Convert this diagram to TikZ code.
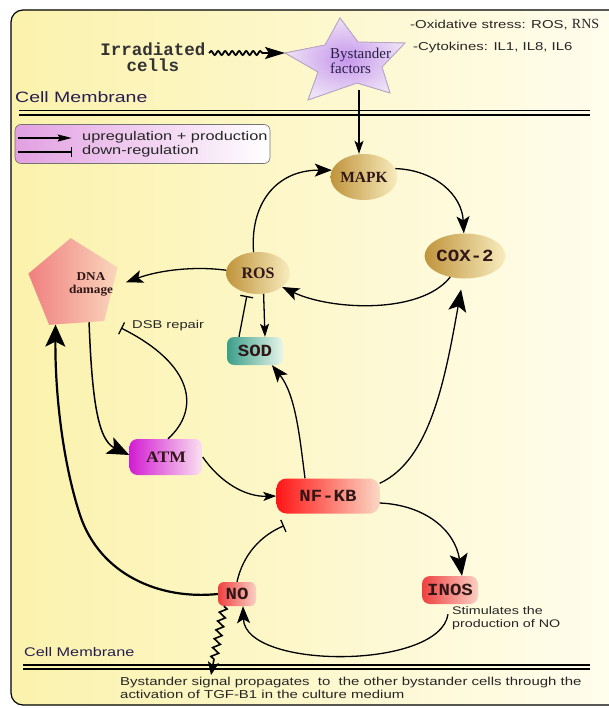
\documentclass[tikz,border=0pt]{standalone}
\usepackage{fontspec}
\usetikzlibrary{arrows.meta,shapes.geometric,decorations.pathmorphing}
\newfontfamily\sansW[FakeStretch=1.3]{Liberation Sans}
\newfontfamily\monoL{Liberation Mono}
\newfontfamily\monoW[FakeStretch=1.12]{Liberation Mono}
\newfontfamily\serifL{Liberation Serif}
\newfontfamily\serifW[FakeStretch=1.1]{Liberation Serif}
\definecolor{bgL}{RGB}{251,242,172}
\definecolor{bgR}{RGB}{255,254,242}
\definecolor{legL}{RGB}{226,160,226}
\definecolor{starIn}{RGB}{198,150,236}
\definecolor{starOut}{RGB}{238,226,246}
\definecolor{starLine}{RGB}{185,165,200}
\definecolor{goldL}{RGB}{192,148,60}
\definecolor{goldR}{RGB}{248,236,190}
\definecolor{tealL}{RGB}{58,158,138}
\definecolor{tealR}{RGB}{232,246,234}
\definecolor{dnaL}{RGB}{240,128,128}
\definecolor{dnaR}{RGB}{250,214,188}
\definecolor{atmL}{RGB}{210,30,210}
\definecolor{atmR}{RGB}{250,226,240}
\definecolor{nfL}{RGB}{255,22,22}
\definecolor{nfR}{RGB}{250,216,196}
\definecolor{redL}{RGB}{238,64,64}
\definecolor{redR}{RGB}{250,208,196}
\definecolor{labcol}{RGB}{48,22,22}
\definecolor{memcol}{RGB}{38,30,80}
\definecolor{bystcol}{RGB}{40,30,70}
\begin{document}
\begin{tikzpicture}[x=1pt,y=-1pt,
  conn/.style={line width=1.3pt,draw=black},
  arrS/.style={conn,-{Stealth[length=13pt,width=9pt,inset=3pt]}},
  arrM/.style={conn,-{Stealth[length=17pt,width=13pt,inset=4pt]}},
  arrL/.style={conn,-{Stealth[length=22pt,width=18pt,inset=5pt]}},
  inh/.style={conn,-{Bar[width=13pt,line width=1.3pt]}},
  mem/.style={line width=1.3pt,draw=black},
  gold/.style={ellipse,inner sep=0pt,minimum width=64pt,left color=goldL,right color=goldR,text=labcol},
  rbox/.style={rounded corners=8pt,inner sep=0pt,text=labcol,font=\monoW\bfseries\fontsize{17}{18}\selectfont},
  sanstext/.style={inner sep=0pt,text=black!85}
]
\useasboundingbox (0,0) rectangle (608,708);
% frame with background
\path[left color=bgL,right color=bgR,draw=black,line width=1.2pt,rounded corners=12pt] (11,10) rectangle (660,705);

% top area
\node[inner sep=0pt,align=center,text=black!80,font=\monoL\bfseries\fontsize{17.5}{16}\selectfont] (irr) at (153,57) {Irradiated\\cells};
\coordinate (wv0) at (209,53);
\coordinate (starL) at (285,53);
\coordinate (starB) at (359,90);
\filldraw[inner color=starIn,outer color=starOut,draw=starLine,line width=0.9pt]
  (340,18) -- (358,42) -- (405,43) -- (382,67) -- (390,93) -- (357,83) -- (308,100) -- (318,72) -- (285,53) -- (325,45) -- cycle;
\node[inner sep=0pt,anchor=west,align=left,text=bystcol,font=\serifL\fontsize{15}{15}\selectfont] (bys) at (330,61) {Bystander\\factors};
\node[sanstext,anchor=west,font=\sansW\fontsize{11.5}{13}\selectfont] (ox) at (410,25) {-Oxidative stress: ROS, {\serifL\fontsize{14}{14}\selectfont RNS}};
\node[sanstext,anchor=west,font=\sansW\fontsize{11.5}{13}\selectfont] (cy) at (413,48) {-Cytokines: IL1, IL8, IL6};
\draw[conn,line width=1.8pt,decorate,decoration={snake,amplitude=2pt,segment length=7pt,post length=20pt},-{Stealth[length=20pt,width=12pt,inset=4pt]}] (wv0) -- (starL);

\node[inner sep=0pt,anchor=west,text=memcol,font=\sansW\fontsize{15}{16}\selectfont] (cm1) at (15,97) {Cell Membrane};
\draw[mem] (19,110.5) -- (590,110.5);
\draw[mem] (19,115) -- (590,115);

% legend
\node[draw=black!55,line width=0.6pt,rounded corners=6pt,left color=legL,right color=white,minimum width=255pt,minimum height=39pt,inner sep=0pt] (leg) at (142.5,144) {};
\draw[conn,line width=1.1pt,-{Stealth[length=14pt,width=7pt,inset=2pt]}] ([xshift=3pt,yshift=6pt]leg.west) -- ([xshift=57pt,yshift=6pt]leg.west);
\draw[conn,line width=1.1pt,-{Bar[width=10pt,line width=1.1pt]}] ([xshift=3pt,yshift=-8pt]leg.west) -- ([xshift=57pt,yshift=-8pt]leg.west);
\node[sanstext,anchor=west,font=\sansW\fontsize{12.6}{13}\selectfont] (up) at (82,137.5) {upregulation + production};
\node[sanstext,anchor=west,font=\sansW\fontsize{12.6}{13}\selectfont] (dn) at (82,151.5) {down-regulation};

% pathway nodes
\node[gold,minimum height=46pt,font=\serifL\bfseries\fontsize{15.5}{16}\selectfont] (mapk) at (364,177) {MAPK};
\node[gold,minimum height=45pt,font=\monoW\bfseries\fontsize{17}{18}\selectfont] (cox) at (465,256) {COX-2};
\node[gold,minimum height=42pt,font=\serifL\bfseries\fontsize{16}{16}\selectfont] (ros) at (258,273) {ROS};
\node[rbox,rounded corners=7pt,left color=tealL,right color=tealR,minimum width=56pt,minimum height=28pt] (sod) at (255,351) {SOD};
\node[regular polygon,regular polygon sides=5,minimum size=94pt,inner sep=0pt,shape border rotate=4,left color=dnaL,right color=dnaR] (dna) at (74,285) {};
\node[inner sep=0pt,align=center,text=labcol,font=\serifW\bfseries\fontsize{12}{13}\selectfont] (dnat) at (91,284) {DNA\\damage};
\node[rbox,left color=atmL,right color=atmR,minimum width=73pt,minimum height=36pt,font=\serifW\bfseries\fontsize{16}{16}\selectfont] (atm) at (166,457) {ATM};
\node[rbox,rounded corners=10pt,left color=nfL,right color=nfR,minimum width=103pt,minimum height=35pt] (nfkb) at (328,496) {NF-KB};
\node[rbox,left color=redL,right color=redR,minimum width=56pt,minimum height=28pt] (inos) at (450,590) {INOS};
\node[rbox,rounded corners=6pt,left color=redL,right color=redR,minimum width=38pt,minimum height=24pt] (no) at (237,594) {NO};
\node[sanstext,anchor=west,font=\sansW\fontsize{11.3}{13}\selectfont] (dsbt) at (132,326) {DSB repair};
\coordinate (dsbend) at (121,328);
\node[sanstext,anchor=north west,align=left,font=\sansW\fontsize{11}{13}\selectfont] (stim) at (452,606) {Stimulates the\\production of NO};

% bottom membrane
\node[inner sep=0pt,anchor=west,text=memcol,font=\sansW\fontsize{12.5}{14}\selectfont] (cm2) at (24,652) {Cell Membrane};
\draw[mem] (23,665) -- (590,665);
\draw[mem] (23,669) -- (590,669);
\node[sanstext,anchor=north west,align=left,font=\sansW\fontsize{11.5}{13}\selectfont] (bot) at (120,677) {Bystander signal propagates\ \ to\ \ the other bystander cells through the\\activation of TGF-B1 in the culture medium};
\coordinate (wend) at (211,675);

% connectors
\draw[arrS] (starB) -- (starB |- mapk.north);
\draw[arrM] (ros.102) .. controls (250,205) and (275,170) .. (mapk.168);
\draw[arrM] (mapk.15) .. controls (435,170) and (462,195) .. (cox.93);
\draw[arrM] (cox.235) .. controls (420,315) and (330,310) .. (ros.-30);
\draw[arrM,shorten >=14pt] (ros.175) .. controls (195,266) and (160,270) .. (dna.-3);
\draw[arrS] (ros.-75) -- ([xshift=10pt]sod.north);
\draw[inh,shorten >=3pt] ([xshift=-16pt]sod.north) -- (ros.-118);
\draw[arrM] ([xshift=-23pt]nfkb.north) .. controls (300,440) and (296,395) .. (sod.-40);
\draw[arrL,shorten >=11pt] ([yshift=-5pt]nfkb.north east) .. controls (430,460) and (445,380) .. (cox.-95);
\draw[arrL] ([yshift=-7pt]nfkb.east) .. controls (425,505) and (455,530) .. ([xshift=12pt]inos.north);
\draw[arrS] (atm.east) .. controls (220,482) and (245,497) .. (nfkb.west);
\draw[arrL,line width=1.5pt] (dna.-68) .. controls (92,400) and (98,440) .. ([yshift=2pt]atm.west);
\draw[inh] ([xshift=2pt]atm.north) .. controls (200,410) and (195,365) .. (dsbend);
\draw[conn,line width=2.2pt,-{Stealth[length=22pt,width=20pt,inset=5pt]}] (no.west) .. controls (160,600) and (100,575) .. (80,515) .. controls (62,460) and (55,390) .. (dna.-115);
\draw[inh] (no.north) .. controls (243,555) and (260,536) .. ([xshift=-44pt,yshift=-12pt]nfkb.south);
\draw[arrM] ([xshift=-2pt,yshift=-10pt]inos.south) .. controls (440,670) and (245,670) .. ([xshift=6pt]no.south);
\draw[conn,line width=1.6pt,decorate,decoration={zigzag,amplitude=3.5pt,segment length=9pt,post length=12pt},-{Stealth[length=13pt,width=11pt,inset=3pt]}] ([xshift=-13pt]no.south) -- (wend);
\end{tikzpicture}
\end{document}
